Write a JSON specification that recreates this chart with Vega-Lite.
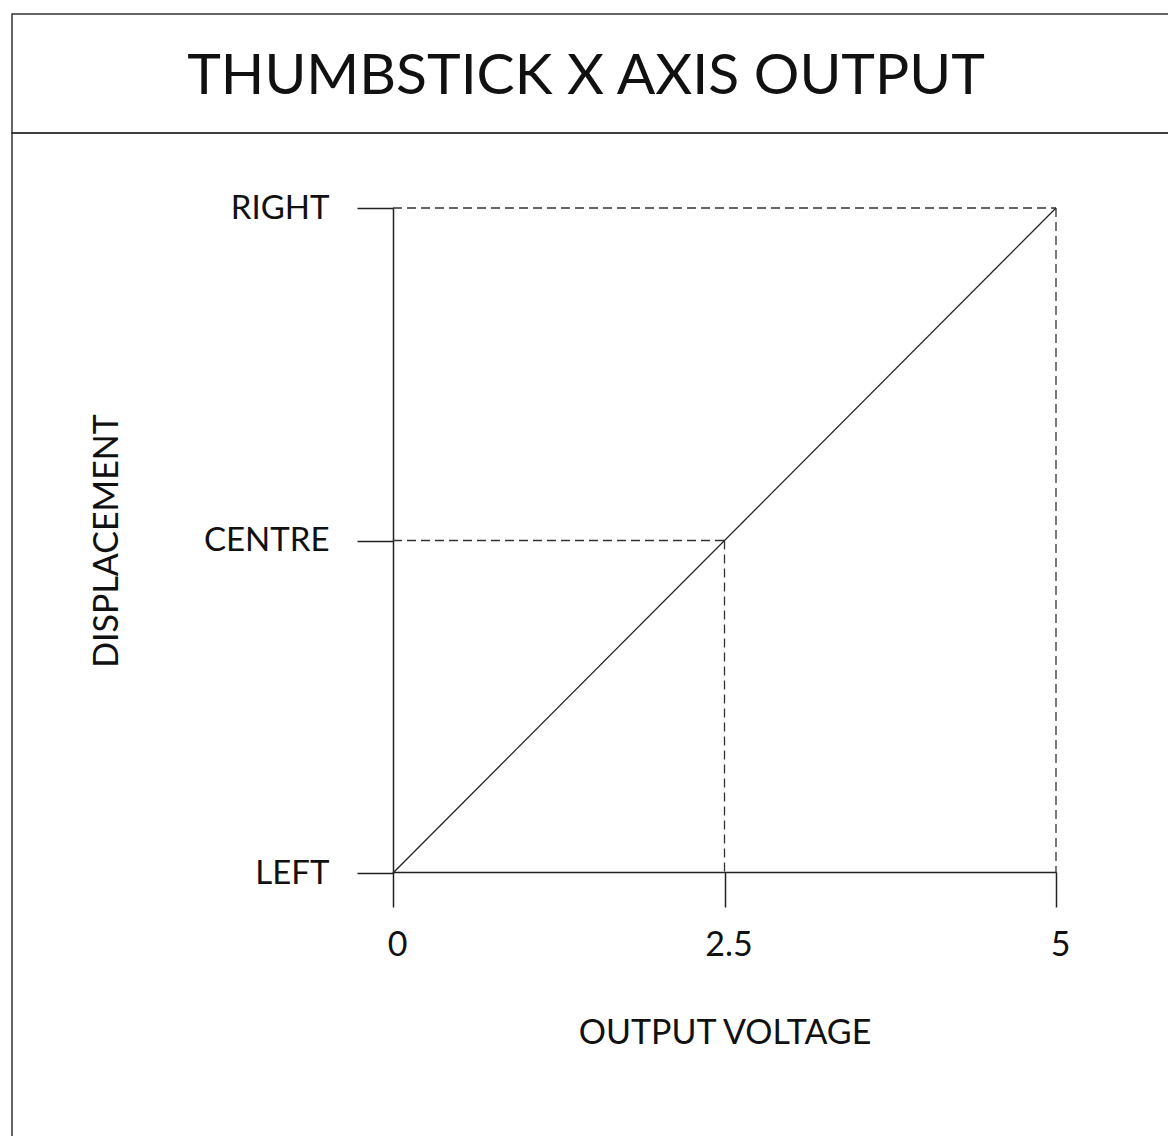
{
  "$schema": "https://vega.github.io/schema/vega-lite/v6.json",
  "padding": {"left": 11, "top": 13, "right": 0, "bottom": 0},
  "background": "white",
  "spacing": 0,
  "bounds": "flush",
  "config": {
    "view": {"stroke": "#333", "strokeWidth": 1.5},
    "font": "Lato",
    "axis": {"grid": false}
  },
  "vconcat": [
    {
      "width": 1160,
      "height": 119,
      "data": {"values": [{"title": "THUMBSTICK X AXIS OUTPUT", "pos": 0.5}]},
      "mark": {"type": "text", "font": "Lato", "fontWeight": 400, "fontSize": 57, "color": "#111", "dx": -6, "dy": 3, "baseline": "middle", "align": "center"},
      "encoding": {
        "text": {"field": "title"},
        "x": {"field": "pos", "type": "quantitative", "scale": {"domain": [0, 1]}, "axis": null},
        "y": {"field": "pos", "type": "quantitative", "scale": {"domain": [0, 1]}, "axis": null}
      }
    },
    {
      "width": 1160,
      "height": 1010,
      "layer": [
        {
          "data": {"values": [
            {"x": 0, "y": 1, "x2": 5, "y2": 1},
            {"x": 5, "y": 1, "x2": 5, "y2": 0},
            {"x": 0, "y": 0.5, "x2": 2.5, "y2": 0.5},
            {"x": 2.5, "y": 0.5, "x2": 2.5, "y2": 0}
          ]},
          "mark": {"type": "rule", "strokeDash": [9, 5], "color": "#333", "strokeWidth": 1.3},
          "encoding": {
            "x": {"field": "x", "type": "quantitative",
              "scale": {"domain": [0, 5], "range": [381, 1044], "nice": false, "zero": false},
              "axis": {"orient": "bottom", "offset": -271, "values": [0, 2.5, 5], "format": "", "labelFlush": false, "labelOffset": 4, "tickSize": 35, "tickColor": "#222", "tickWidth": 1.5, "domainColor": "#222", "domainWidth": 1.5, "labelFontSize": 34, "labelFontWeight": 400, "labelColor": "#111", "labelPadding": 21, "labelFont": "Lato", "title": "OUTPUT VOLTAGE", "titleFontSize": 34, "titleFontWeight": 400, "titleColor": "#111", "titleFont": "Lato", "titlePadding": 54}},
            "x2": {"field": "x2"},
            "y": {"field": "y", "type": "quantitative",
              "scale": {"domain": [0, 1], "range": [740, 75], "nice": false, "zero": false},
              "axis": {"orient": "left", "offset": -381, "values": [0, 0.5, 1], "labelFlush": false, "labelExpr": "datum.value == 0 ? 'LEFT' : datum.value == 1 ? 'RIGHT' : 'CENTRE'", "tickSize": 36, "tickColor": "#222", "tickWidth": 1.5, "domainColor": "#222", "domainWidth": 1.5, "labelFontSize": 33, "labelFontWeight": 400, "labelColor": "#111", "labelPadding": 28, "labelFont": "Lato", "title": "DISPLACEMENT", "titleFontSize": 34, "titleFontWeight": 400, "titleColor": "#111", "titleFont": "Lato", "titlePadding": 79}},
            "y2": {"field": "y2"}
          }
        },
        {
          "data": {"values": [
            {"x": 0, "y": 0},
            {"x": 5, "y": 1}
          ]},
          "mark": {"type": "line", "color": "#222", "strokeWidth": 1.3},
          "encoding": {
            "x": {"field": "x", "type": "quantitative"},
            "y": {"field": "y", "type": "quantitative"}
          }
        }
      ]
    }
  ]
}
